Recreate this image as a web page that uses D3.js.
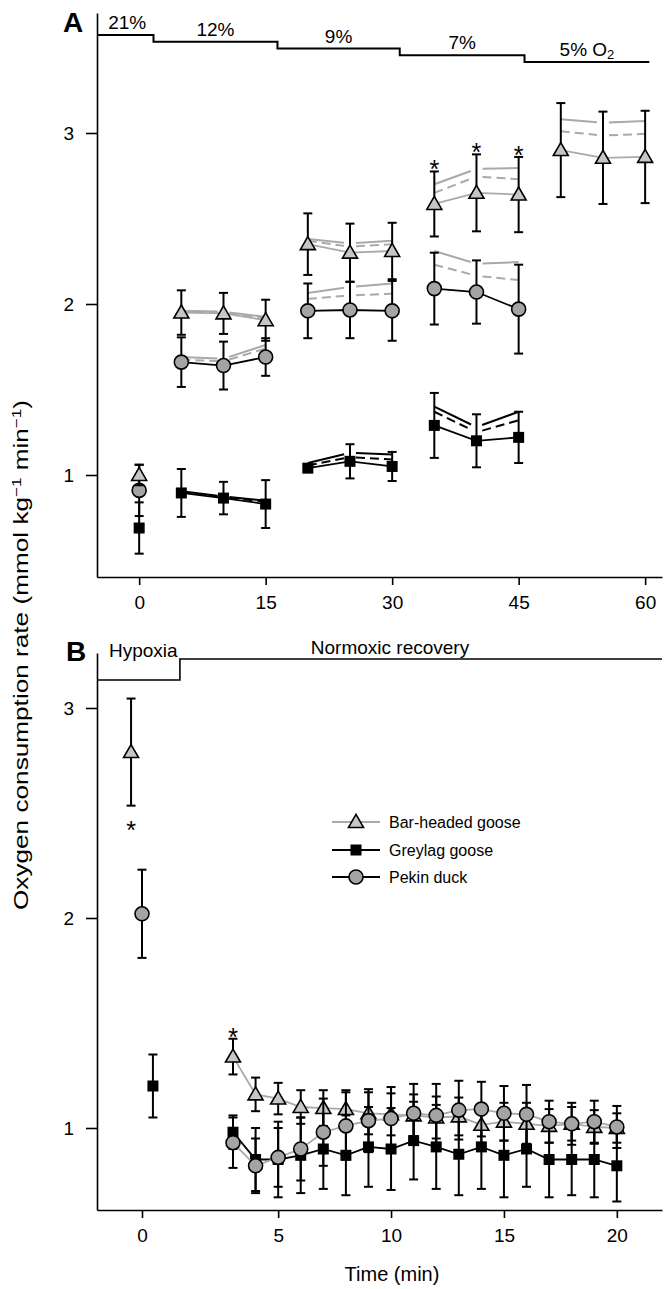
<!DOCTYPE html>
<html>
<head>
<meta charset="utf-8">
<script src="https://cdn.jsdelivr.net/npm/d3@7"></script>
<style>
  body { margin: 0; background: #fff; }
  svg { display: block; }
  text { font-family: "Liberation Sans", Arial, Helvetica, sans-serif; fill: #000; }
</style>
</head>
<body>
<div id="chart"></div>
<script>
// ---- panel A: stepwise hypoxia ----
var tA = [0, 5, 10, 15, 20, 25, 30, 35, 40, 45, 50, 55, 60];
var bhA = [1.00, 1.95, 1.945, 1.905, 2.35, 2.30, 2.31, 2.585, 2.65, 2.64, 2.90, 2.855, 2.86];
var bhAerr = [0.06, 0.13, 0.12, 0.12, 0.18, 0.17, 0.165, 0.19, 0.225, 0.22, 0.275, 0.27, 0.27];
var pdA = [0.91, 1.66, 1.64, 1.69, 1.96, 1.965, 1.96, 2.09, 2.07, 1.97];
var pdAerr = [0.15, 0.145, 0.14, 0.11, 0.16, 0.165, 0.175, 0.21, 0.185, 0.26];
var glA = [0.69, 0.895, 0.865, 0.83, 1.04, 1.08, 1.05, 1.29, 1.20, 1.22];
var glAerr = [0.15, 0.14, 0.095, 0.14, 0.02, 0.10, 0.085, 0.19, 0.155, 0.15];
var stagesA = [[5, 10, 15], [20, 25, 30], [35, 40, 45], [50, 55, 60]];
// extra solid / dashed lines per stage
var bhSolid = [[1.96, 1.955, 1.925], [2.38, 2.355, 2.37], [2.70, 2.79, 2.795], [3.08, 3.06, 3.07]];
var bhDash = [[1.955, 1.95, 1.915], [2.37, 2.335, 2.35], [2.65, 2.745, 2.73], [3.01, 2.985, 2.995]];
var pdSolid = [[1.69, 1.68, 1.76], [2.065, 2.10, 2.12], [2.31, 2.235, 2.245]];
var pdDash = [[1.675, 1.665, 1.74], [2.03, 2.05, 2.06], [2.23, 2.165, 2.14]];
var glSolid = [[0.905, 0.875, 0.85], [1.07, 1.13, 1.12], [1.40, 1.28, 1.37]];
var glDash = [[0.90, 0.87, 0.845], [1.055, 1.105, 1.09], [1.37, 1.25, 1.32]];
var o2Labels = ["21%", "12%", "9%", "7%", "5% O"];
var o2Breaks = [-5, 1.7, 16.4, 30.9, 45.7, 60.5];
var sigA = [35, 40, 45];
var ticksA = [0, 15, 30, 45, 60];

// ---- panel B: recovery ----
var hypT = [-0.36, 0, 0.36];          // bar-headed, pekin, greylag (dodged at 0)
var hypV = [2.79, 2.02, 1.20];
var hypErr = [0.255, 0.21, 0.15];
var tB = [3, 4, 5, 6, 7, 8, 9, 10, 11, 12, 13, 14, 15, 16, 17, 18, 19, 20];
var bhB = [1.34, 1.16, 1.14, 1.10, 1.095, 1.09, 1.07, 1.065, 1.06, 1.05, 1.055, 1.015, 1.03, 1.02, 1.01, 1.02, 1.005, 1.00];
var bhBerr = [0.085, 0.08, 0.075, 0.08, 0.085, 0.09, 0.10, 0.10, 0.10, 0.10, 0.09, 0.10, 0.09, 0.10, 0.08, 0.08, 0.08, 0.07];
var pdB = [0.93, 0.82, 0.86, 0.90, 0.98, 1.01, 1.035, 1.045, 1.07, 1.06, 1.085, 1.09, 1.07, 1.065, 1.03, 1.02, 1.03, 1.005];
var pdBerr = [0.12, 0.13, 0.14, 0.15, 0.16, 0.16, 0.15, 0.15, 0.14, 0.15, 0.14, 0.13, 0.13, 0.14, 0.10, 0.10, 0.10, 0.10];
var glB = [0.98, 0.85, 0.85, 0.87, 0.90, 0.87, 0.91, 0.90, 0.94, 0.91, 0.875, 0.91, 0.87, 0.90, 0.85, 0.85, 0.85, 0.82];
var glBerr = [0.08, 0.15, 0.18, 0.18, 0.19, 0.19, 0.19, 0.195, 0.185, 0.20, 0.195, 0.20, 0.20, 0.18, 0.18, 0.17, 0.18, 0.17];
var phaseLabels = ["Hypoxia", "Normoxic recovery"];
var phaseBreaks = [-1.48, 1.25, 22];
var ticksB = [0, 5, 10, 15, 20];
var species = ["Bar-headed goose", "Greylag goose", "Pekin duck"];

var W = 669, H = 1289;
var GREY = "#a9a9a9", TRI_FILL = "#c6c6c6", CIRC_FILL = "#a4a4a4";
var fs = 19;

var svg = d3.select("#chart").append("svg")
    .attr("width", W).attr("height", H);

// scales
var xA = d3.scaleLinear().domain([-5, 62]).range([97, 662]);
var yA = d3.scaleLinear().domain([1, 3]).range([475, 133]);
var xB = d3.scaleLinear().domain([-1.48, 0, 3, 22]).range([97, 142, 233, 662]);
var yB = d3.scaleLinear().domain([2, 3]).range([918, 708]);

function marker(g, shape, x, y) {
  if (shape == "tri") {
    var s = 15, h = 13;
    g.append("path")
      .attr("d", "M" + x + "," + (y - h * 0.58) + "L" + (x + s / 2) + "," + (y + h * 0.42) + "L" + (x - s / 2) + "," + (y + h * 0.42) + "Z")
      .style("fill", TRI_FILL).style("stroke", "#000").style("stroke-width", 1.6);
  } else if (shape == "circ") {
    g.append("circle").attr("cx", x).attr("cy", y).attr("r", 7)
      .style("fill", CIRC_FILL).style("stroke", "#000").style("stroke-width", 1.6);
  } else {
    g.append("rect").attr("x", x - 5.5).attr("y", y - 5.5).attr("width", 11).attr("height", 11)
      .style("fill", "#000");
  }
}

function errbar(g, x, lo, hi) {
  g.append("line").attr("x1", x).attr("x2", x).attr("y1", lo).attr("y2", hi)
    .style("stroke", "#000").style("stroke-width", 2);
  [lo, hi].forEach(function(yy) {
    g.append("line").attr("x1", x - 4.5).attr("x2", x + 4.5).attr("y1", yy).attr("y2", yy)
      .style("stroke", "#000").style("stroke-width", 2);
  });
}

function series(g, xs, ys, errs, x, y, shape, lineColor, groups) {
  var pts = xs.map(function(t, i) { return {t: t, v: ys[i], e: errs[i]}; });
  var line = d3.line().x(function(d) { return x(d.t); }).y(function(d) { return y(d.v); });
  groups.forEach(function(grp) {
    var sub = pts.filter(function(d) { return grp.indexOf(d.t) >= 0; });
    g.append("path").attr("d", line(sub))
      .style("fill", "none").style("stroke", lineColor).style("stroke-width", 1.8);
  });
  pts.forEach(function(d) { errbar(g, x(d.t), y(d.v - d.e), y(d.v + d.e)); });
  pts.forEach(function(d) { marker(g, shape, x(d.t), y(d.v)); });
}

// extra lines drawn in two pieces with a gap at the middle time point
function extraLines(g, vals, color, dash) {
  vals.forEach(function(stage, si) {
    var p = stagesA[si].map(function(t, i) { return [xA(t), yA(stage[i])]; });
    var gap = 6;
    [[p[0], p[1], 1], [p[1], p[2], 0]].forEach(function(seg) {
      var a = seg[0], b = seg[1];
      var dx = b[0] - a[0], dy = b[1] - a[1], L = Math.sqrt(dx * dx + dy * dy);
      var ux = dx / L, uy = dy / L;
      var s = seg[2] ? a : [a[0] + ux * gap, a[1] + uy * gap];
      var e = seg[2] ? [b[0] - ux * gap, b[1] - uy * gap] : b;
      g.append("line").attr("x1", s[0]).attr("y1", s[1]).attr("x2", e[0]).attr("y2", e[1])
        .style("stroke", color).style("stroke-width", 2)
        .style("stroke-dasharray", dash ? "9,5" : null);
    });
  });
}

function styleAxis(ax) {
  ax.select(".domain").style("stroke", "#000").style("stroke-width", 1.6);
  ax.selectAll(".tick line").style("stroke", "#000").style("stroke-width", 1.6);
  ax.selectAll(".tick text").style("font-size", fs + "px")
    .style("font-family", "\"Liberation Sans\", Arial, sans-serif");
}

// ===== Panel A =====
var gA = svg.append("g");

var axYA = gA.append("g").attr("transform", "translate(97,0)")
  .call(d3.axisLeft(d3.scaleLinear().domain([yA.invert(577), yA.invert(13)]).range([577, 13]))
    .tickValues([1, 2, 3]).tickSize(11).tickPadding(12).tickSizeOuter(0).tickFormat(d3.format("d")));
styleAxis(axYA);

var axXA = gA.append("g").attr("transform", "translate(0,577)")
  .call(d3.axisBottom(xA).tickValues(ticksA).tickSize(8).tickPadding(11).tickSizeOuter(0));
styleAxis(axXA);

// oxygen steps
var stepY = d3.scaleLinear().domain([0, 4]).range([35, 62]);
var stepPts = [];
o2Labels.forEach(function(l, i) {
  stepPts.push([xA(o2Breaks[i]), stepY(i)]);
  stepPts.push([xA(o2Breaks[i + 1]), stepY(i)]);
});
gA.append("path").attr("d", d3.line()(stepPts))
  .style("fill", "none").style("stroke", "#000").style("stroke-width", 2);
o2Labels.forEach(function(l, i) {
  var cx = (xA(Math.max(o2Breaks[i], -5)) + xA(o2Breaks[i + 1])) / 2;
  if (i == 0) cx += 2;
  var t = gA.append("text").attr("x", cx).attr("y", stepY(i) - 6)
    .attr("text-anchor", "middle").style("font-size", fs + "px").text(l);
  if (i == 4) t.append("tspan").attr("baseline-shift", "-25%").style("font-size", "13px").text("2");
});

gA.append("text").attr("x", 73).attr("y", 32).attr("text-anchor", "middle")
  .style("font-size", "28px").style("font-weight", "bold").text("A");

// extra lines
extraLines(gA, glSolid, "#000", false);
extraLines(gA, glDash, "#000", true);
extraLines(gA, pdSolid, GREY, false);
extraLines(gA, pdDash, GREY, true);
extraLines(gA, bhSolid, GREY, false);
extraLines(gA, bhDash, GREY, true);

series(gA, tA.slice(0, glA.length), glA, glAerr, xA, yA, "sq", "#000", stagesA);
series(gA, tA.slice(0, pdA.length), pdA, pdAerr, xA, yA, "circ", "#000", stagesA);
series(gA, tA, bhA, bhAerr, xA, yA, "tri", GREY, stagesA);

sigA.forEach(function(t) {
  var i = tA.indexOf(t);
  gA.append("text").attr("x", xA(t)).attr("y", yA(bhA[i] + bhAerr[i]) + 7)
    .attr("text-anchor", "middle").style("font-size", "25px").text("*");
});

// ===== Panel B =====
var gB = svg.append("g");

var axYB = gB.append("g").attr("transform", "translate(97,0)")
  .call(d3.axisLeft(d3.scaleLinear().domain([yB.invert(1210), yB.invert(653)]).range([1210, 653]))
    .tickValues([1, 2, 3]).tickSize(11).tickPadding(12).tickSizeOuter(0).tickFormat(d3.format("d")));
styleAxis(axYB);

var axXB = gB.append("g").attr("transform", "translate(0,1210)")
  .call(d3.axisBottom(xB).tickValues(ticksB).tickSize(8).tickPadding(11).tickSizeOuter(0));
styleAxis(axXB);

var phaseY = [680, 659];
var phasePts = [];
phaseLabels.forEach(function(l, i) {
  phasePts.push([xB(phaseBreaks[i]), phaseY[i]]);
  phasePts.push([xB(phaseBreaks[i + 1]), phaseY[i]]);
});
gB.append("path").attr("d", d3.line()(phasePts))
  .style("fill", "none").style("stroke", "#000").style("stroke-width", 1.6);
gB.append("text").attr("x", xB(phaseBreaks[0]) + 12).attr("y", 657)
  .style("font-size", fs + "px").text(phaseLabels[0]);
gB.append("text").attr("x", 390).attr("y", 654).attr("text-anchor", "middle")
  .style("font-size", fs + "px").text(phaseLabels[1]);

gB.append("text").attr("x", 76).attr("y", 661).attr("text-anchor", "middle")
  .style("font-size", "28px").style("font-weight", "bold").text("B");

// hypoxia end points
var hypShapes = ["tri", "circ", "sq"];
hypT.forEach(function(t, i) {
  errbar(gB, xB(t), yB(hypV[i] - hypErr[i]), yB(hypV[i] + hypErr[i]));
  marker(gB, hypShapes[i], xB(t), yB(hypV[i]));
});
gB.append("text").attr("x", xB(hypT[0])).attr("y", yB(hypV[0] - hypErr[0]) + 33)
  .attr("text-anchor", "middle").style("font-size", "25px").text("*");

var allB = [tB];
series(gB, tB, glB, glBerr, xB, yB, "sq", "#000", allB);
series(gB, tB, bhB, bhBerr, xB, yB, "tri", GREY, allB);
series(gB, tB, pdB, pdBerr, xB, yB, "circ", GREY, allB);

gB.append("text").attr("x", xB(tB[0])).attr("y", yB(bhB[0] + bhBerr[0]) + 7)
  .attr("text-anchor", "middle").style("font-size", "25px").text("*");

// legend
var legY = [822, 850, 877];
var legShape = ["tri", "sq", "circ"];
var legColor = [GREY, "#000", "#000"];
species.forEach(function(s, i) {
  gB.append("line").attr("x1", 332).attr("x2", 380).attr("y1", legY[i]).attr("y2", legY[i])
    .style("stroke", legColor[i]).style("stroke-width", 1.8);
  marker(gB, legShape[i], 356, legY[i]);
  gB.append("text").attr("x", 389).attr("y", legY[i]).attr("dy", "0.35em")
    .style("font-size", "16px").text(s);
});

// axis titles
svg.append("text").attr("x", 392).attr("y", 1281).attr("text-anchor", "middle")
  .style("font-size", "20px").text("Time (min)");

var yl = svg.append("text").attr("transform", "translate(28,655) rotate(-90)")
  .attr("text-anchor", "middle").style("font-size", "20px")
  .attr("textLength", 510).attr("lengthAdjust", "spacingAndGlyphs");
yl.append("tspan").text("Oxygen consumption rate (mmol kg");
yl.append("tspan").attr("baseline-shift", "super").style("font-size", "13px").text("\u22121");
yl.append("tspan").text(" min");
yl.append("tspan").attr("baseline-shift", "super").style("font-size", "13px").text("\u22121");
yl.append("tspan").text(")");
</script>
</body>
</html>
